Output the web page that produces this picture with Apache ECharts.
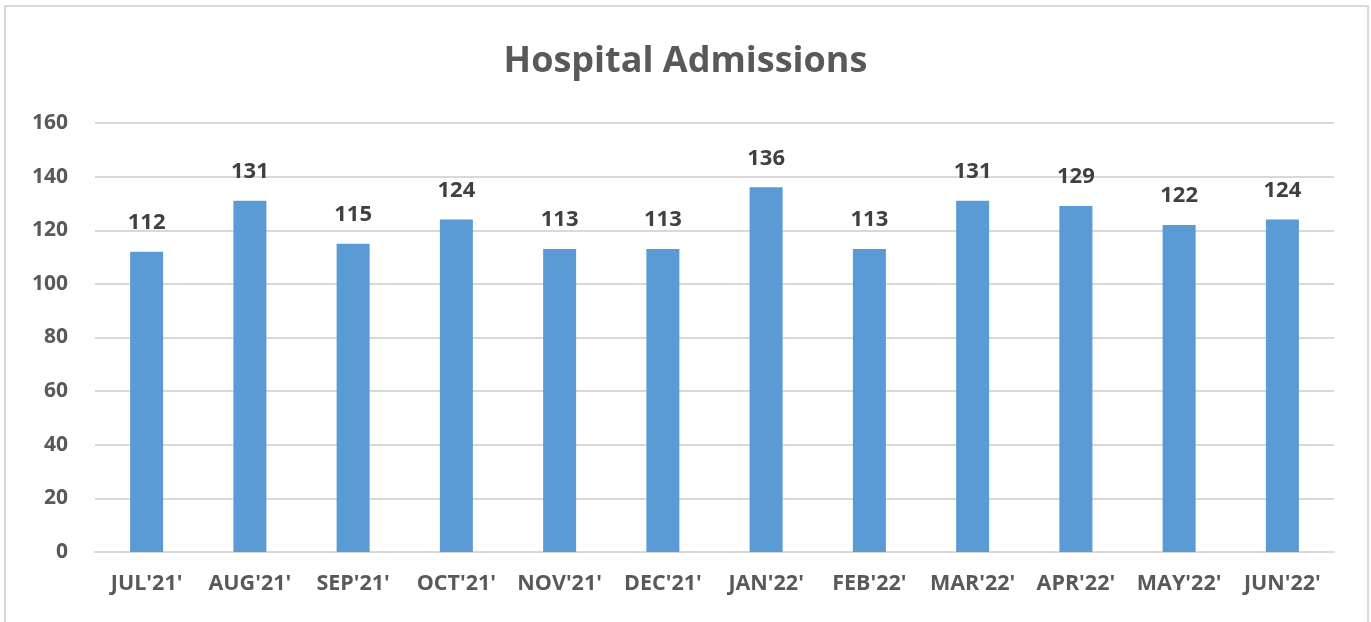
<!DOCTYPE html>
<html lang="en">
<head>
<meta charset="UTF-8">
<title>Hospital Admissions</title>
<script src="https://cdn.jsdelivr.net/npm/echarts@6/dist/echarts.min.js"></script>
<style>
  html, body { margin: 0; padding: 0; background: #fff; }
  #chart { width: 1371px; height: 622px; }
</style>
</head>
<body>
<div id="chart"></div>
<script>
var months = ["JUL'21'", "AUG'21'", "SEP'21'", "OCT'21'", "NOV'21'", "DEC'21'",
              "JAN'22'", "FEB'22'", "MAR'22'", "APR'22'", "MAY'22'", "JUN'22'"];
var admissions = [112, 131, 115, 124, 113, 113, 136, 113, 131, 129, 122, 124];
var yTicks = { min: 0, max: 160, interval: 20 };

var font = "'Open Sans', 'Liberation Sans', sans-serif";
var chart = echarts.init(document.getElementById('chart'));

chart.setOption({
  animation: false,
  // chart border
  graphic: [{
    type: 'rect',
    shape: { x: 5, y: 6, width: 1363, height: 700 },
    style: { fill: 'none', stroke: '#d9d9d9', lineWidth: 2 },
    silent: true
  }],
  title: {
    text: 'Hospital Admissions',
    left: 'center',
    top: 39,
    textStyle: { fontFamily: font, fontSize: 36, fontWeight: 'bold', color: '#595959' }
  },
  grid: { left: 95, right: 37, top: 123, bottom: 70 },
  xAxis: {
    type: 'category',
    data: months,
    axisLine: { show: true, lineStyle: { color: '#d9d9d9', width: 2 } },
    axisTick: { show: false },
    axisLabel: {
      interval: 0,
      margin: 21,
      fontFamily: font,
      fontSize: 21.5,
      fontWeight: 'bold',
      color: '#595959'
    }
  },
  yAxis: {
    type: 'value',
    min: yTicks.min,
    max: yTicks.max,
    interval: yTicks.interval,
    axisLine: { show: false },
    axisTick: { show: false },
    splitLine: { lineStyle: { color: '#d9d9d9', width: 2 } },
    axisLabel: {
      margin: 27,
      fontFamily: font,
      fontSize: 21,
      fontWeight: 'bold',
      color: '#595959'
    }
  },
  series: [{
    type: 'bar',
    data: admissions,
    barWidth: 33,
    itemStyle: { color: '#5b9bd5' },
    label: {
      show: true,
      position: 'top',
      distance: 18,
      fontFamily: font,
      fontSize: 22,
      fontWeight: 'bold',
      color: '#404040'
    }
  }]
});
</script>
</body>
</html>
